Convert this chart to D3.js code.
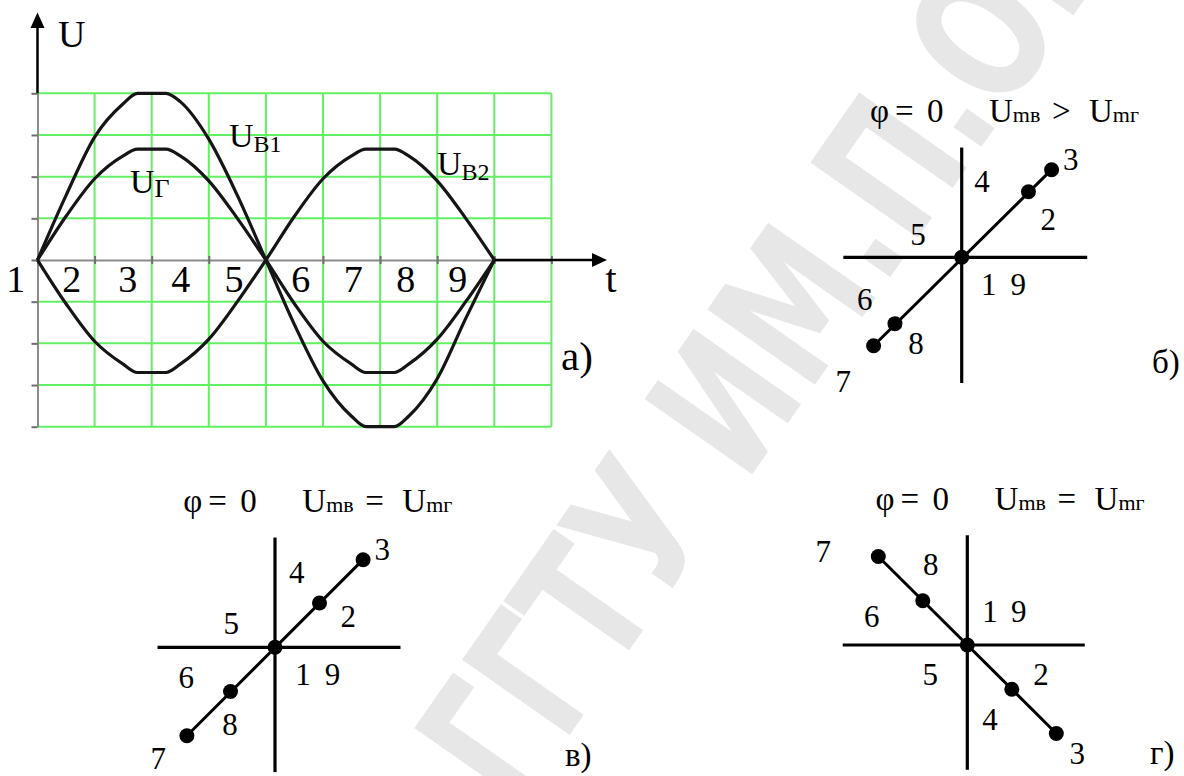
<!DOCTYPE html>
<html>
<head>
<meta charset="utf-8">
<script src="https://cdn.jsdelivr.net/npm/d3@7"></script>
<style>
  html, body { margin: 0; padding: 0; background: #fff; }
  svg { display: block; }
</style>
</head>
<body>
<svg id="fig" width="1184" height="776"></svg>
<script>
// ---------- data ----------
// time in grid columns, voltage in grid rows
const tSamples = [0, 0.5, 1, 1.5, 1.75, 2.25, 2.5, 3, 3.5, 4, 4.5, 5, 5.5, 5.75, 6.25, 6.5, 7, 7.5, 8];
const uB1 = [0, 1.55, 2.95, 3.75, 4.0, 4.0, 3.8, 2.9, 1.55, 0, -1.55, -2.9, -3.75, -4.0, -4.0, -3.75, -2.85, -1.4, 0];
const uG  = [0, 1.05, 1.95, 2.5, 2.66, 2.66, 2.5, 1.9, 1.0, 0, -1.05, -1.95, -2.5, -2.7, -2.7, -2.5, -1.9, -1.0, 0];
const uB2 = [0, -1.05, -1.95, -2.5, -2.7, -2.7, -2.5, -1.9, -1.0, 0, 1.05, 1.95, 2.5, 2.66, 2.66, 2.5, 1.9, 1.0, 0];

const gridCols = [0, 1, 2, 3, 4, 5, 6, 7, 8, 9];
const gridRows = [-4, -3, -2, -1, 0, 1, 2, 3, 4];
const instantLabels = ["1", "2", "3", "4", "5", "6", "7", "8", "9"];
const instantLabelT = [-0.38, 0.6, 1.58, 2.51, 3.44, 4.61, 5.53, 6.45, 7.36];

// screen figures: deflection of each marked instant (horizontal = U_г, vertical = U_в), normalised
const dotsB = { h: [0, 0.75, 1.01, -0.75, -0.99], v: [0, 0.74, 0.99, -0.75, -1.0] };
const dotsV = { h: [0, 0.5, 0.99, -0.5, -0.99], v: [0, 0.5, 0.99, -0.5, -1.0] };
const dotsG = { h: [0, 0.5, 1.0, -0.5, -1.0], v: [0, -0.5, -1.0, 0.5, 1.0] };

const SERIF = "\"Liberation Serif\", \"Times New Roman\", Tinos, serif";
const svg = d3.select("#fig");

function txt(g, x, y, s, size) {
  return g.append("text").attr("x", x).attr("y", y)
    .style("font-family", SERIF).style("font-size", size + "px").style("fill", "#000").text(s);
}

// ---------- background watermark ----------
svg.append("text")
  .attr("transform", "translate(515,813) rotate(-55)")
  .attr("textLength", 1010).attr("lengthAdjust", "spacingAndGlyphs")
  .style("font-family", "\"DejaVu Sans\", sans-serif")
  .style("font-weight", "bold")
  .style("font-size", "180px")
  .style("fill", "#e7e7e7")
  .text("ГГТУ ИМ.П.О.");

// ---------- panel a: oscillograms ----------
const xA = d3.scaleLinear().domain([0, 9]).range([37.5, 551.4]);
const yA = d3.scaleLinear().domain([-4, 4]).range([426.7, 93.3]);
const gA = svg.append("g");

const green = "#63ef63";
gA.selectAll("line.vgrid").data(gridCols.filter(c => c > 0)).join("line")
  .attr("x1", d => xA(d)).attr("x2", d => xA(d))
  .attr("y1", yA(-4)).attr("y2", yA(4))
  .attr("stroke", green).attr("stroke-width", 2);
gA.selectAll("line.hgrid").data(gridRows.filter(r => r !== 0)).join("line")
  .attr("x1", xA(0)).attr("x2", xA(9))
  .attr("y1", d => yA(d)).attr("y2", d => yA(d))
  .attr("stroke", green).attr("stroke-width", 2);

// grey scale axes inside the grid
const axL = gA.append("g").attr("transform", `translate(${xA(0)},0)`)
  .call(d3.axisLeft(yA).tickValues(gridRows).tickSize(6).tickSizeOuter(0).tickFormat(""));
const axB = gA.append("g").attr("transform", `translate(0,${yA(0)})`)
  .call(d3.axisBottom(xA).tickValues(gridCols).tickSize(4).tickSizeOuter(0).tickFormat(""));
[axL, axB].forEach(ax => {
  ax.select(".domain").attr("stroke", "#8c8c8c").attr("stroke-width", 2);
  ax.selectAll(".tick line").attr("stroke", "#6f6f6f").attr("stroke-width", 2);
});
axB.selectAll(".tick line").attr("y1", -4);

// black arrows
gA.append("line").attr("x1", xA(0)).attr("x2", xA(0)).attr("y1", yA(4)).attr("y2", 26)
  .attr("stroke", "#000").attr("stroke-width", 2.5);
gA.append("path").attr("d", `M${xA(0)},12.5 L${xA(0) - 7},28 L${xA(0) + 7},28 Z`).attr("fill", "#000");
gA.append("line").attr("x1", xA(8)).attr("x2", 594).attr("y1", yA(0)).attr("y2", yA(0))
  .attr("stroke", "#000").attr("stroke-width", 2.5);
gA.append("path").attr("d", `M607,${yA(0)} L592,${yA(0) - 7} L592,${yA(0) + 7} Z`).attr("fill", "#000");

// waveforms
const wave = d3.line().x(d => xA(d[0])).y(d => yA(d[1])).curve(d3.curveMonotoneX);
[uB1, uG, uB2].forEach(series => {
  gA.append("path")
    .attr("d", wave(tSamples.map((t, i) => [t, series[i]])))
    .attr("fill", "none").attr("stroke", "#151515").attr("stroke-width", 3.2)
    .attr("stroke-linejoin", "round");
});

// texts of panel a
txt(gA, 58, 46.5, "U", 38);
instantLabels.forEach((s, i) => txt(gA, xA(instantLabelT[i]), 292, s, 38).attr("text-anchor", "middle"));
txt(gA, 611, 292, "t", 40).attr("text-anchor", "middle");
txt(gA, 561, 370, "а)", 41);

function subLabel(x, y, main, sub, mainSize, subSize, subDy) {
  const t = txt(gA, x, y, main, mainSize);
  t.append("tspan").attr("dy", subDy).style("font-size", subSize + "px").text(sub);
}
subLabel(229, 147, "U", "В1", 34, 24, 5);
subLabel(130, 193, "U", "Г", 34, 26, 4);
subLabel(437, 175, "U", "В2", 34, 24, 5);

// ---------- panels б, в, г: screen figures ----------
function drawTitle(x0, y0, rel) {
  const t = svg.append("text").attr("transform", `translate(${x0},${y0})`)
    .style("font-family", SERIF).style("font-size", "33px").style("fill", "#000");
  t.append("tspan").attr("x", 0).text("φ");
  t.append("tspan").attr("x", 25).text("=");
  t.append("tspan").attr("x", 57).text("0");
  t.append("tspan").attr("x", 119).text("U");
  t.append("tspan").style("font-size", "22px").text("mв");
  t.append("tspan").attr("x", 182).text(rel);
  t.append("tspan").attr("x", 219).text("U");
  t.append("tspan").style("font-size", "22px").text("mг");
}

function drawScreen(cfg) {
  const { cx, cy, ext, dots, labels, tag } = cfg;
  const sx = d3.scaleLinear().domain([-1, 1]).range([cx - 89, cx + 89]);
  const sy = d3.scaleLinear().domain([-1, 1]).range([cy + 88.5, cy - 88.5]);
  const g = svg.append("g");
  g.append("line").attr("x1", sx(ext.left)).attr("x2", sx(ext.right)).attr("y1", sy(0)).attr("y2", sy(0))
    .attr("stroke", "#000").attr("stroke-width", 3.2);
  g.append("line").attr("x1", sx(0)).attr("x2", sx(0)).attr("y1", sy(ext.top)).attr("y2", sy(ext.bottom))
    .attr("stroke", "#000").attr("stroke-width", 3.2);
  const pts = dots.h.map((h, i) => [h, dots.v[i]]);
  g.append("line").attr("x1", sx(pts[2][0])).attr("y1", sy(pts[2][1]))
    .attr("x2", sx(pts[4][0])).attr("y2", sy(pts[4][1]))
    .attr("stroke", "#000").attr("stroke-width", 3);
  g.selectAll("circle").data(pts).join("circle")
    .attr("cx", d => sx(d[0])).attr("cy", d => sy(d[1])).attr("r", 7.5).attr("fill", "#000");
  labels.forEach(([s, dx, dy]) => txt(g, cx + dx, cy + dy, s, 31).attr("text-anchor", "middle"));
  txt(g, tag[1], tag[2], tag[0], 33);
}

// б
drawTitle(870, 122, ">");
drawScreen({
  cx: 961.7, cy: 257.3,
  ext: { left: -1.33, right: 1.41, top: 1.24, bottom: -1.42 },
  dots: dotsB,
  labels: [["3", 109, -87.3], ["4", 20.3, -65.6], ["2", 86.6, -27.3], ["5", -43.7, -12.3],
           ["1", 27, 37.7], ["9", 56.6, 37.7], ["6", -97, 52.7], ["8", -45.7, 96.7], ["7", -118.4, 134.4]],
  tag: ["б)", 1152, 373]
});

// в
drawTitle(183.3, 512, "=");
drawScreen({
  cx: 275, cy: 647.3,
  ext: { left: -1.32, right: 1.41, top: 1.24, bottom: -1.41 },
  dots: dotsV,
  labels: [["3", 107.3, -87.3], ["4", 21.7, -64], ["2", 73.3, -20], ["5", -43.7, -13.3],
           ["1", 28, 37.7], ["9", 57.5, 37.7], ["6", -88.8, 41], ["8", -45, 87.7], ["7", -116.7, 121.7]],
  tag: ["в)", 565, 766]
});

// г
drawTitle(875.6, 509.7, "=");
drawScreen({
  cx: 967.3, cy: 645,
  ext: { left: -1.40, right: 1.32, top: 1.24, bottom: -1.41 },
  dots: dotsG,
  labels: [["7", -144, -83], ["8", -36.6, -70], ["6", -95.6, -17.7], ["1", 22.7, -23.3], ["9", 51.4, -23.3],
           ["5", -37, 40], ["2", 73.7, 40], ["4", 22.7, 85], ["3", 110, 119]],
  tag: ["г)", 1150, 764]
});
</script>
</body>
</html>
